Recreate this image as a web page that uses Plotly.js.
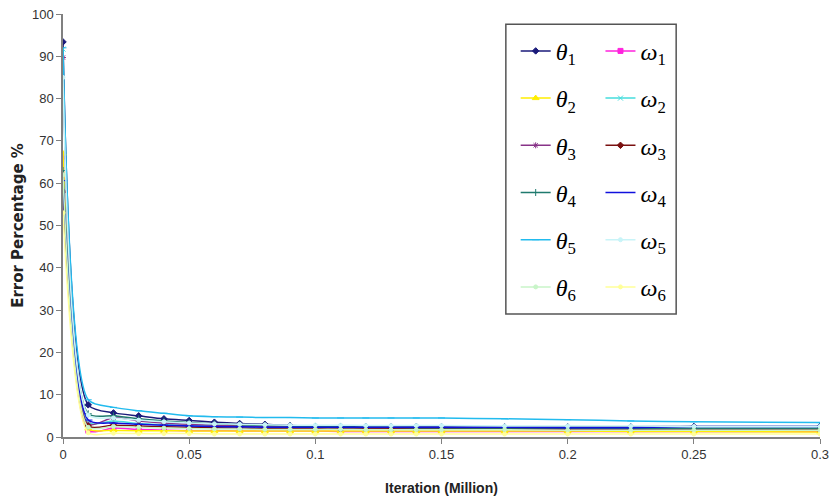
<!DOCTYPE html>
<html>
<head>
<meta charset="utf-8">
<script src="https://cdn.plot.ly/plotly-3.0.1.min.js"></script>
<style>html,body{margin:0;padding:0;background:#fff;}#chart{width:833px;height:501px;}</style>
</head>
<body>
<div id="chart"></div>
<script>
// Iteration (Million)
var iterations = [0, 0.01, 0.02, 0.03, 0.04, 0.05, 0.06, 0.07, 0.08, 0.09, 0.1, 0.11, 0.12, 0.13, 0.14, 0.15, 0.175, 0.2, 0.225, 0.25, 0.3];

// Error percentage series
var theta1 = [93.4, 7.6, 5.7, 5.0, 4.3, 3.9, 3.5, 3.2, 3.0, 2.7, 2.5, 2.5, 2.5, 2.5, 2.5, 2.4, 2.4, 2.4, 2.4, 2.5, 2.5];
var omega1 = [66.3, 1.5, 2.1, 1.8, 1.6, 1.5, 1.5, 1.4, 1.4, 1.4, 1.4, 1.3, 1.3, 1.3, 1.3, 1.3, 1.3, 1.3, 1.3, 1.3, 1.3];
var theta2 = [67.0, 2.0, 1.6, 1.5, 1.5, 1.4, 1.4, 1.4, 1.4, 1.4, 1.4, 1.4, 1.4, 1.4, 1.4, 1.4, 1.4, 1.4, 1.3, 1.3, 1.2];
var omega2 = [91.7, 3.4, 3.8, 3.2, 2.9, 2.7, 2.5, 2.4, 2.3, 2.2, 2.2, 2.1, 2.1, 2.1, 2.0, 2.0, 2.0, 2.0, 2.0, 2.0, 2.0];
var theta3 = [89.7, 3.0, 4.6, 3.8, 3.3, 3.0, 2.8, 2.6, 2.5, 2.4, 2.3, 2.2, 2.2, 2.1, 2.1, 2.1, 2.0, 2.0, 1.9, 1.9, 1.8];
var omega3 = [58.0, 2.6, 2.8, 2.6, 2.4, 2.3, 2.2, 2.1, 2.0, 2.0, 2.0, 1.9, 1.9, 1.9, 1.9, 1.9, 1.9, 1.9, 1.9, 1.9, 1.9];
var theta4 = [63.0, 5.5, 5.0, 4.3, 3.8, 3.4, 3.1, 2.9, 2.7, 2.6, 2.5, 2.4, 2.3, 2.3, 2.2, 2.2, 2.1, 2.1, 2.0, 2.0, 2.0];
var omega4 = [60.6, 4.0, 3.3, 3.0, 2.8, 2.6, 2.5, 2.4, 2.3, 2.3, 2.3, 2.3, 2.3, 2.3, 2.3, 2.3, 2.3, 2.2, 2.2, 2.5, 2.5];
var theta5 = [92.0, 8.8, 7.0, 6.2, 5.6, 5.0, 4.8, 4.7, 4.6, 4.6, 4.5, 4.5, 4.5, 4.5, 4.5, 4.5, 4.3, 4.1, 3.8, 3.6, 3.4];
var omega5 = [85.0, 5.2, 4.5, 4.0, 3.6, 3.3, 3.1, 3.0, 2.9, 2.8, 2.8, 2.8, 2.7, 2.7, 2.7, 2.7, 2.6, 2.6, 2.6, 2.5, 2.5];
var theta6 = [62.0, 2.3, 2.5, 2.3, 2.1, 2.0, 1.9, 1.9, 1.8, 1.8, 1.8, 1.8, 1.7, 1.7, 1.7, 1.7, 1.7, 1.6, 1.6, 1.6, 1.6];
var omega6 = [53.0, 1.0, 0.9, 0.8, 0.8, 0.8, 0.7, 0.7, 0.7, 0.7, 0.7, 0.7, 0.7, 0.7, 0.7, 0.7, 0.7, 0.7, 0.7, 0.7, 0.7];

var seriesNames = ['<i>θ</i><sub>1</sub>', '<i>ω</i><sub>1</sub>', '<i>θ</i><sub>2</sub>', '<i>ω</i><sub>2</sub>',
                   '<i>θ</i><sub>3</sub>', '<i>ω</i><sub>3</sub>', '<i>θ</i><sub>4</sub>', '<i>ω</i><sub>4</sub>',
                   '<i>θ</i><sub>5</sub>', '<i>ω</i><sub>5</sub>', '<i>θ</i><sub>6</sub>', '<i>ω</i><sub>6</sub>'];
var seriesValues = [theta1, omega1, theta2, omega2, theta3, omega3, theta4, omega4, theta5, omega5, theta6, omega6];
var seriesColors = ['#1a1a7a', '#ff22dd', '#ffee00', '#44dddd', '#883388', '#7a1010', '#1f7a6e', '#1010dd', '#22bbee', '#c8f4f8', '#c8f5c8', '#ffff99'];
var seriesSymbols = ['diamond', 'square', 'triangle-up', 'x-thin-open', 'asterisk-open', 'diamond', 'cross-thin-open', 'line-ew-open', 'line-ew-open', 'circle', 'circle', 'circle'];
var seriesSizes = [5, 5, 6, 5, 5, 5, 5, 6, 5, 4, 4, 4];

var traces = [];
for (var i = 0; i < seriesValues.length; i++) {
  traces.push({
    x: iterations,
    y: seriesValues[i],
    name: seriesNames[i],
    type: 'scatter',
    mode: 'lines+markers',
    line: {color: seriesColors[i], width: 1.5, shape: 'spline', smoothing: 0.7},
    marker: {color: seriesColors[i], symbol: seriesSymbols[i], size: seriesSizes[i], line: {color: seriesColors[i], width: 1}},
    legend: (i % 2 === 0) ? 'legend' : 'legend2',
    legendgroup: 'g' + i
  });
}

var legendCommon = {
  bgcolor: 'rgba(0,0,0,0)',
  borderwidth: 0,
  font: {family: 'Liberation Serif, Times New Roman, serif', size: 24, color: '#000'},
  traceorder: 'grouped',
  tracegroupgap: 13,
  itemwidth: 30,
  xanchor: 'left',
  yanchor: 'top'
};

var layout = {
  width: 833,
  height: 501,
  margin: {l: 63, r: 13, t: 14, b: 64},
  paper_bgcolor: '#fff',
  plot_bgcolor: '#fff',
  showlegend: true,
  xaxis: {
    range: [0, 0.3],
    tickvals: [0, 0.05, 0.1, 0.15, 0.2, 0.25, 0.3],
    ticktext: ['0', '0.05', '0.1', '0.15', '0.2', '0.25', '0.3'],
    showgrid: false,
    zeroline: false,
    showline: true,
    linecolor: '#808080',
    linewidth: 1.5,
    ticks: 'outside',
    ticklen: 5,
    tickcolor: '#808080',
    tickfont: {family: 'Liberation Sans, Arial, sans-serif', size: 13, color: '#333'},
    title: {text: 'Iteration (Million)', font: {family: 'Liberation Sans, Arial, sans-serif', size: 14, color: '#222', weight: 'bold'}, standoff: 22}
  },
  yaxis: {
    range: [0, 100],
    dtick: 10,
    showgrid: false,
    zeroline: false,
    showline: true,
    linecolor: '#808080',
    linewidth: 1.5,
    ticks: 'outside',
    ticklen: 5,
    tickcolor: '#808080',
    tickfont: {family: 'Liberation Sans, Arial, sans-serif', size: 13, color: '#333'},
    title: {text: 'Error Percentage %', font: {family: 'DejaVu Sans, sans-serif', size: 15, color: '#222', weight: 'bold'}, standoff: 5}
  },
  legend: Object.assign({}, legendCommon, {x: 0.598, y: 0.965}),
  legend2: Object.assign({}, legendCommon, {x: 0.71, y: 0.965}),
  shapes: [{
    type: 'rect', xref: 'paper', yref: 'paper',
    x0: 0.585, x1: 0.810, y0: 0.291, y1: 0.976,
    line: {color: '#555', width: 1.5}, fillcolor: 'rgba(0,0,0,0)', layer: 'above'
  }]
};

Plotly.newPlot('chart', traces, layout, {displayModeBar: false, responsive: false});
</script>
</body>
</html>
